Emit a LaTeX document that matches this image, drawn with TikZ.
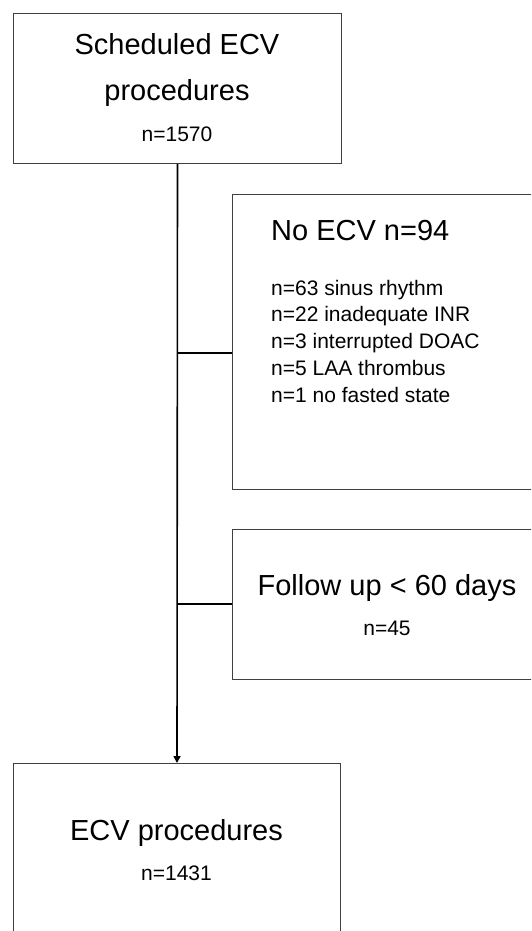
\documentclass[tikz,border=0pt]{standalone}
\usepackage{fontspec}
\setmainfont{Liberation Sans}
\usetikzlibrary{arrows.meta}
\begin{document}
\begin{tikzpicture}[x=1pt,y=-1pt,
  boxstyle/.style={draw=black!75,line width=1pt,inner sep=0pt,anchor=north west},
  bigtext/.style={font=\fontsize{29}{34}\selectfont,inner sep=0pt,anchor=base},
  smalltext/.style={font=\fontsize{21}{25}\selectfont,inner sep=0pt,anchor=base},
  itemtext/.style={font=\fontsize{21}{25}\selectfont,inner sep=0pt,anchor=base west},
  conn/.style={line width=1.6pt,black}]
\useasboundingbox (0,0) rectangle (531,931);
\clip (0,0) rectangle (531,931);
% boxes
\node[boxstyle,minimum width=328pt,minimum height=150pt] (b1) at (13,13) {};
\node[boxstyle,minimum width=320pt,minimum height=295pt] (b2) at (232,194) {};
\node[boxstyle,minimum width=320pt,minimum height=150pt] (b3) at (232,529) {};
\node[boxstyle,minimum width=327pt,minimum height=190pt] (b4) at (13,763) {};
% texts box 1
\node[bigtext] (t1a) at (177,55) {Scheduled ECV};
\node[bigtext] (t1b) at (177,101) {procedures};
\node[smalltext] (t1c) at (177,141.5) {n=1570};
% box 2
\node[bigtext,anchor=base west] (t2) at (271,240) {No ECV n=94};
\node[itemtext] (i1) at (271,295) {n=63 sinus rhythm};
\node[itemtext] (i2) at (271,321.75) {n=22 inadequate INR};
\node[itemtext] (i3) at (271,348.5) {n=3 interrupted DOAC};
\node[itemtext] (i4) at (271,375.25) {n=5 LAA thrombus};
\node[itemtext] (i5) at (271,402) {n=1 no fasted state};
% box 3
\node[bigtext] (t3a) at (387,595) {Follow up < 60 days};
\node[smalltext] (t3b) at (387,635) {n=45};
% box 4
\node[bigtext] (t4a) at (176.5,840) {ECV procedures};
\node[smalltext] (t4b) at (176.5,880) {n=1431};
% connectors
\coordinate (j1) at (177,353);
\coordinate (j2) at (177,604);
\draw[conn,-{Triangle[length=7pt,width=7pt]}] (b1.south) -- (b4.north);
\draw[conn] (j1) -- (j1 -| b2.west);
\draw[conn] (j2) -- (j2 -| b3.west);
\end{tikzpicture}
\end{document}
